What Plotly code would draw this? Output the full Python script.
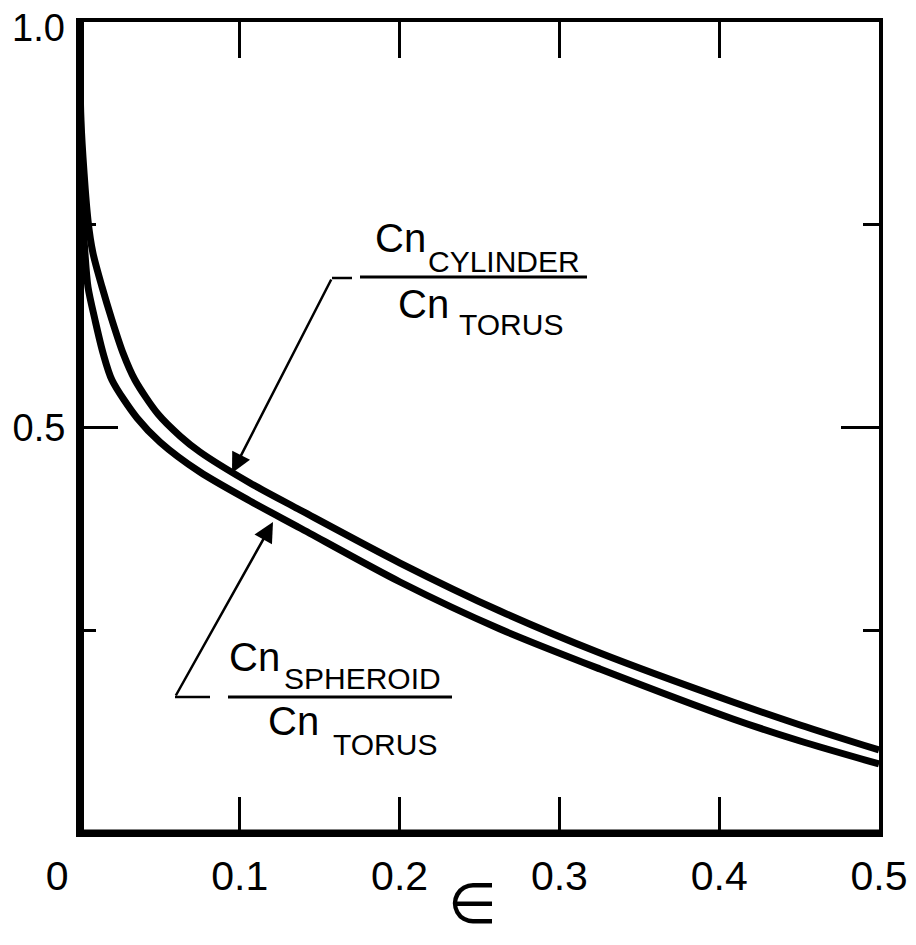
import plotly.graph_objects as go

# ---- data ----
eps_cyl = [0.0, 0.0006, 0.0050, 0.0081, 0.0138, 0.0200, 0.0269, 0.0344, 0.0488,
           0.0626, 0.0751, 0.1064, 0.1377, 0.2003, 0.2628, 0.3254, 0.4086,
           0.4506, 0.5000]
ratio_cyl = [1.0, 0.8788, 0.7555, 0.7152, 0.6732, 0.6326, 0.5919, 0.5586, 0.5166,
             0.4895, 0.4698, 0.4316, 0.3983, 0.3329, 0.2737, 0.2219, 0.1615,
             0.1332, 0.1023]

eps_sph = [0.0, 0.0006, 0.0019, 0.0031, 0.0050, 0.0094, 0.0144, 0.0200, 0.0357,
           0.0501, 0.0751, 0.1064, 0.1377, 0.2003, 0.2628, 0.3254, 0.4086,
           0.4506, 0.5000]
ratio_sph = [1.0, 0.8422, 0.7555, 0.7152, 0.6732, 0.6326, 0.5919, 0.5586, 0.5117,
             0.4821, 0.4451, 0.4094, 0.3761, 0.3095, 0.2515, 0.2022, 0.1406,
             0.1134, 0.0851]

x_tickvals = [0, 0.1, 0.2, 0.3, 0.4, 0.5]
x_ticktext = ["0\u00a0\u00a0\u00a0\u00a0", "0.1", "0.2", "0.3", "0.4", "0.5"]
y_tickvals = [0, 0.5, 1.0]
y_ticktext = ["", "0.5", ""]
y_top_label = "1.0"
y_minor = [0.25, 0.75]

FONT = "Liberation Sans"

# page is offset by the browser's 8px body margin
W, H = 908, 937
L, T, PW, PH = 72, 14, 799, 811


def px(xp):
    """reference-image pixel -> axis-domain x"""
    return (xp - 80) / PW


def py(yp):
    """reference-image pixel -> axis-domain y"""
    return (833 - yp) / PH


fig = go.Figure()
for xs, ys, nm in [(eps_cyl, ratio_cyl, "cylinder"), (eps_sph, ratio_sph, "spheroid")]:
    fig.add_trace(go.Scatter(x=xs, y=ys, mode="lines", name=nm, showlegend=False,
                             line=dict(color="black", width=7, shape="spline", smoothing=0.8)))

fig.update_layout(
    width=W, height=H,
    margin=dict(l=L, r=W - L - PW, t=T, b=H - T - PH),
    plot_bgcolor="white", paper_bgcolor="white",
    font=dict(family=FONT, color="black"),
    xaxis=dict(range=[0, 0.5], tickvals=x_tickvals, ticktext=x_ticktext,
               ticks="inside", ticklen=36, tickwidth=3, tickcolor="black",
               showline=True, linewidth=4, linecolor="black", mirror="ticks",
               showgrid=False, zeroline=False, automargin=False,
               ticklabeloverflow="allow",
               tickfont=dict(size=41, family=FONT), ticklabelstandoff=4),
    yaxis=dict(range=[0, 1.0], tickvals=y_tickvals, ticktext=y_ticktext,
               ticks="inside", ticklen=38, tickwidth=3, tickcolor="black",
               showline=True, linewidth=4, linecolor="black", mirror="ticks",
               showgrid=False, zeroline=False, automargin=False,
               ticklabeloverflow="allow",
               tickfont=dict(size=38, family=FONT), ticklabelstandoff=3,
               minor=dict(tickvals=y_minor, ticks="inside", ticklen=16,
                          tickwidth=3, tickcolor="black", showgrid=False)),
)

XR, YR = "x domain", "y domain"

# top y label placed just inside the page edge
fig.add_annotation(x=px(67), y=py(28), xref=XR, yref=YR, showarrow=False,
                   text=y_top_label, font=dict(size=38, family=FONT, color="black"),
                   xanchor="right", yanchor="middle")

# thicker left and bottom frame lines
fig.add_shape(type="line", xref=XR, yref=YR, x0=0, x1=0, y0=0, y1=1,
              line=dict(color="black", width=8))
fig.add_shape(type="line", xref=XR, yref=YR, x0=0, x1=1, y0=0, y1=0,
              line=dict(color="black", width=7))

# x-axis title (epsilon)
fig.add_annotation(x=px(472), y=py(903), xref=XR, yref=YR, showarrow=False,
                   text="\u2208", font=dict(size=56, family="DejaVu Sans", color="black"),
                   yanchor="middle")

# fraction labels: big "Cn" + lowered subscript word
big = dict(size=40, family=FONT, color="black")
small = dict(size=30, family=FONT, color="black")
pieces = [
    ("Cn", 373, 238, big), ("CYLINDER", 426, 261, small),
    ("Cn", 396, 304, big), ("TORUS", 457, 325, small),
    ("Cn", 227, 657, big), ("SPHEROID", 282, 678, small),
    ("Cn", 266, 721, big), ("TORUS", 331, 744, small),
]
for txt, xp, yp, f in pieces:
    fig.add_annotation(x=px(xp), y=py(yp), xref=XR, yref=YR, showarrow=False,
                       text=txt, font=f, xanchor="left", yanchor="middle")

# fraction bars
fig.add_shape(type="line", xref=XR, yref=YR, x0=px(360), x1=px(587),
              y0=py(277), y1=py(277), line=dict(color="black", width=3))
fig.add_shape(type="line", xref=XR, yref=YR, x0=px(228), x1=px(452),
              y0=py(697), y1=py(697), line=dict(color="black", width=3))

# leader short horizontals
fig.add_shape(type="line", xref=XR, yref=YR, x0=px(332), x1=px(352),
              y0=py(278), y1=py(278), line=dict(color="black", width=2.5))
fig.add_shape(type="line", xref=XR, yref=YR, x0=px(175), x1=px(210),
              y0=py(697), y1=py(697), line=dict(color="black", width=2.5))

# arrows
fig.add_annotation(x=px(232), y=py(473), ax=px(332), ay=py(278), xref=XR, yref=YR,
                   axref=XR, ayref=YR, text="", showarrow=True, arrowhead=2,
                   arrowsize=1.6, arrowwidth=2.5, arrowcolor="black")
fig.add_annotation(x=px(273), y=py(522), ax=px(175), ay=py(697), xref=XR, yref=YR,
                   axref=XR, ayref=YR, text="", showarrow=True, arrowhead=2,
                   arrowsize=1.6, arrowwidth=2.5, arrowcolor="black")

fig.write_html("out.html")
